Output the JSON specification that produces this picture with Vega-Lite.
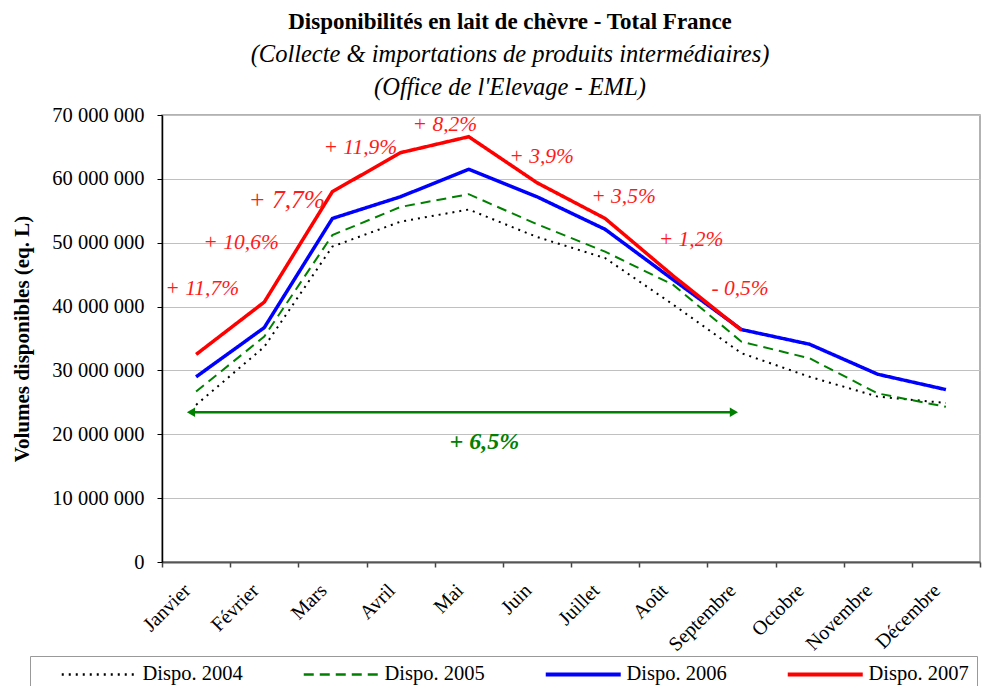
{
  "$schema": "https://vega.github.io/schema/vega-lite/v6.json",
  "width": 818,
  "height": 447,
  "autosize": {"type": "none"},
  "padding": {"left": 162, "top": 115, "right": 2, "bottom": 124},
  "background": "white",
  "config": {
    "font": "Liberation Serif",
    "view": {"stroke": "#999999", "strokeWidth": 1.5},
    "axis": {"labelFont": "Liberation Serif", "titleFont": "Liberation Serif", "labelColor": "black", "titleColor": "black"}
  },
  "title": {
    "text": "Disponibilités en lait de chèvre - Total France",
    "subtitle": ["(Collecte & importations de produits intermédiaires)", "(Office de l'Elevage - EML)"],
    "font": "Liberation Serif",
    "fontSize": 23,
    "fontWeight": "bold",
    "color": "black",
    "subtitleFont": "Liberation Serif",
    "subtitleFontSize": 24.5,
    "subtitleFontStyle": "italic",
    "subtitleColor": "black",
    "subtitleLineHeight": 33,
    "subtitlePadding": 9,
    "anchor": "middle",
    "frame": "group",
    "dx": -61,
    "offset": 6
  },
  "datasets": {
    "series": [
      {"m": 0, "v": 24600000, "s": "Dispo. 2004"},
      {"m": 1, "v": 33700000, "s": "Dispo. 2004"},
      {"m": 2, "v": 49400000, "s": "Dispo. 2004"},
      {"m": 3, "v": 53300000, "s": "Dispo. 2004"},
      {"m": 4, "v": 55200000, "s": "Dispo. 2004"},
      {"m": 5, "v": 50900000, "s": "Dispo. 2004"},
      {"m": 6, "v": 47600000, "s": "Dispo. 2004"},
      {"m": 7, "v": 40300000, "s": "Dispo. 2004"},
      {"m": 8, "v": 32700000, "s": "Dispo. 2004"},
      {"m": 9, "v": 29000000, "s": "Dispo. 2004"},
      {"m": 10, "v": 25900000, "s": "Dispo. 2004"},
      {"m": 11, "v": 24900000, "s": "Dispo. 2004"},
      {"m": 0, "v": 26700000, "s": "Dispo. 2005"},
      {"m": 1, "v": 35300000, "s": "Dispo. 2005"},
      {"m": 2, "v": 51200000, "s": "Dispo. 2005"},
      {"m": 3, "v": 55600000, "s": "Dispo. 2005"},
      {"m": 4, "v": 57600000, "s": "Dispo. 2005"},
      {"m": 5, "v": 52900000, "s": "Dispo. 2005"},
      {"m": 6, "v": 48600000, "s": "Dispo. 2005"},
      {"m": 7, "v": 43400000, "s": "Dispo. 2005"},
      {"m": 8, "v": 34500000, "s": "Dispo. 2005"},
      {"m": 9, "v": 31900000, "s": "Dispo. 2005"},
      {"m": 10, "v": 26400000, "s": "Dispo. 2005"},
      {"m": 11, "v": 24300000, "s": "Dispo. 2005"},
      {"m": 0, "v": 29000000, "s": "Dispo. 2006"},
      {"m": 1, "v": 36700000, "s": "Dispo. 2006"},
      {"m": 2, "v": 53800000, "s": "Dispo. 2006"},
      {"m": 3, "v": 57200000, "s": "Dispo. 2006"},
      {"m": 4, "v": 61500000, "s": "Dispo. 2006"},
      {"m": 5, "v": 57200000, "s": "Dispo. 2006"},
      {"m": 6, "v": 52100000, "s": "Dispo. 2006"},
      {"m": 7, "v": 44200000, "s": "Dispo. 2006"},
      {"m": 8, "v": 36400000, "s": "Dispo. 2006"},
      {"m": 9, "v": 34100000, "s": "Dispo. 2006"},
      {"m": 10, "v": 29400000, "s": "Dispo. 2006"},
      {"m": 11, "v": 27000000, "s": "Dispo. 2006"},
      {"m": 0, "v": 32500000, "s": "Dispo. 2007"},
      {"m": 1, "v": 40700000, "s": "Dispo. 2007"},
      {"m": 2, "v": 58000000, "s": "Dispo. 2007"},
      {"m": 3, "v": 64100000, "s": "Dispo. 2007"},
      {"m": 4, "v": 66600000, "s": "Dispo. 2007"},
      {"m": 5, "v": 59400000, "s": "Dispo. 2007"},
      {"m": 6, "v": 53800000, "s": "Dispo. 2007"},
      {"m": 7, "v": 44800000, "s": "Dispo. 2007"},
      {"m": 8, "v": 36300000, "s": "Dispo. 2007"}
    ],
    "notes": [
      {"m": 0.09, "v": 42750000, "t": "+ 11,7%"},
      {"m": 0.66, "v": 49900000, "t": "+ 10,6%"},
      {"m": 1.33, "v": 56700000, "t": "+ 7,7%"},
      {"m": 2.41, "v": 64900000, "t": "+ 11,9%"},
      {"m": 3.65, "v": 68400000, "t": "+ 8,2%"},
      {"m": 5.07, "v": 63500000, "t": "+ 3,9%"},
      {"m": 6.27, "v": 57200000, "t": "+ 3,5%"},
      {"m": 7.26, "v": 50400000, "t": "+ 1,2%"},
      {"m": 7.98, "v": 42700000, "t": "- 0,5%"}
    ],
    "arrow": [
      {"m": -0.07, "m2": 7.89, "v": 23450000}
    ],
    "heads": [
      {"m": -0.075, "v": 23450000, "dir": "left"},
      {"m": 7.89, "v": 23450000, "dir": "right"}
    ],
    "total": [
      {"m": 4.23, "v": 18850000, "t": "+ 6,5%"}
    ]
  },
  "layer": [
    {
      "data": {"name": "series"},
      "mark": {"type": "line", "strokeCap": "butt", "strokeJoin": "miter"},
      "encoding": {
        "x": {
          "field": "m", "type": "quantitative",
          "scale": {"domain": [-0.5, 11.5], "nice": false, "zero": false},
          "axis": {
            "title": null,
            "values": [-0.5, 0.5, 1.5, 2.5, 3.5, 4.5, 5.5, 6.5, 7.5, 8.5, 9.5, 10.5, 11.5],
            "labelExpr": "datum.value > 11 ? '' : ['Janvier','Février','Mars','Avril','Mai','Juin','Juillet','Août','Septembre','Octobre','Novembre','Décembre'][datum.value + 0.5]",
            "labelOffset": 25,
            "labelAngle": -45,
            "labelAlign": "right",
            "labelBaseline": "middle",
            "labelPadding": 20,
            "labelFontSize": 20,
            "labelFlush": false,
            "labelOverlap": false,
            "labelBound": false,
            "grid": false,
            "tickSize": 5,
            "tickColor": "#444444",
            "tickWidth": 1.5,
            "domainColor": "#555555",
            "domainWidth": 2
          }
        },
        "y": {
          "field": "v", "type": "quantitative",
          "scale": {"domain": [0, 70000000], "nice": false},
          "axis": {
            "title": "Volumes disponibles (eq. L)",
            "titleFontSize": 21,
            "titleFontWeight": "bold",
            "titlePadding": 19,
            "values": [0, 10000000, 20000000, 30000000, 40000000, 50000000, 60000000, 70000000],
            "labelExpr": "replace(format(datum.value, ','), regexp(',', 'g'), ' ')",
            "labelFontSize": 20.5,
            "labelPadding": 13,
            "tickSize": 5,
            "tickColor": "black",
            "domainColor": "black",
            "domainWidth": 1.5,
            "gridColor": "#c0c0c0",
            "gridWidth": 1
          }
        },
        "color": {
          "field": "s", "type": "nominal",
          "scale": {"domain": ["Dispo. 2004", "Dispo. 2005", "Dispo. 2006", "Dispo. 2007"], "range": ["#000000", "#008000", "#0000ff", "#ff0000"]},
          "legend": {
            "title": null,
            "orient": "none",
            "legendX": -132,
            "legendY": 541,
            "direction": "horizontal",
            "columns": 4,
            "symbolType": "stroke",
            "symbolSize": 5625,
            "symbolStrokeWidth": 3,
            "symbolOffset": 51,
            "labelFont": "Liberation Serif",
            "labelFontSize": 20.5,
            "labelColor": "black",
            "labelOffset": 33,
            "columnPadding": 37,
            "padding": 8,
            "strokeColor": "#999999",
            "fillColor": "white",
            "encode": {
              "symbols": {"update": {"strokeWidth": {"signal": "datum.label === 'Dispo. 2006' || datum.label === 'Dispo. 2007' ? 4 : 2.5"}}}
            }
          }
        },
        "strokeDash": {
          "field": "s", "type": "nominal",
          "scale": {"domain": ["Dispo. 2004", "Dispo. 2005", "Dispo. 2006", "Dispo. 2007"], "range": [[2, 5], [10, 6], [1, 0], [1, 0]]},
          "legend": {
            "title": null,
            "orient": "none",
            "legendX": -132,
            "legendY": 541,
            "direction": "horizontal",
            "columns": 4,
            "symbolType": "stroke",
            "symbolSize": 5625,
            "symbolStrokeWidth": 3,
            "symbolOffset": 51,
            "labelFont": "Liberation Serif",
            "labelFontSize": 20.5,
            "labelColor": "black",
            "labelOffset": 33,
            "columnPadding": 37,
            "padding": 8,
            "strokeColor": "#999999",
            "fillColor": "white"
          }
        },
        "strokeWidth": {
          "condition": {"test": "datum.s === 'Dispo. 2006' || datum.s === 'Dispo. 2007'", "value": 3.5},
          "value": 2
        }
      }
    },
    {
      "data": {"name": "notes"},
      "mark": {"type": "text", "font": "Liberation Serif", "fontStyle": "italic", "color": "#ff1a1a", "align": "center", "baseline": "middle"},
      "encoding": {
        "x": {"field": "m", "type": "quantitative"},
        "y": {"field": "v", "type": "quantitative"},
        "text": {"field": "t"},
        "size": {"condition": {"test": "datum.t === '+ 7,7%'", "value": 25.5}, "value": 21.5}
      }
    },
    {
      "data": {"name": "arrow"},
      "mark": {"type": "rule", "color": "#008000", "strokeWidth": 2.5},
      "encoding": {
        "x": {"field": "m", "type": "quantitative"},
        "x2": {"field": "m2"},
        "y": {"field": "v", "type": "quantitative"}
      }
    },
    {
      "data": {"name": "heads"},
      "mark": {"type": "point", "filled": true, "color": "#008000", "opacity": 1},
      "encoding": {
        "x": {"field": "m", "type": "quantitative"},
        "y": {"field": "v", "type": "quantitative"},
        "shape": {"field": "dir", "type": "nominal", "scale": {"domain": ["left", "right"], "range": ["triangle-left", "triangle-right"]}, "legend": null},
        "size": {"value": 90}
      }
    },
    {
      "data": {"name": "total"},
      "mark": {"type": "text", "font": "Liberation Serif", "fontStyle": "italic", "fontWeight": "bold", "fontSize": 24, "color": "#008000", "align": "center", "baseline": "middle"},
      "encoding": {
        "x": {"field": "m", "type": "quantitative"},
        "y": {"field": "v", "type": "quantitative"},
        "text": {"field": "t"}
      }
    }
  ]
}
